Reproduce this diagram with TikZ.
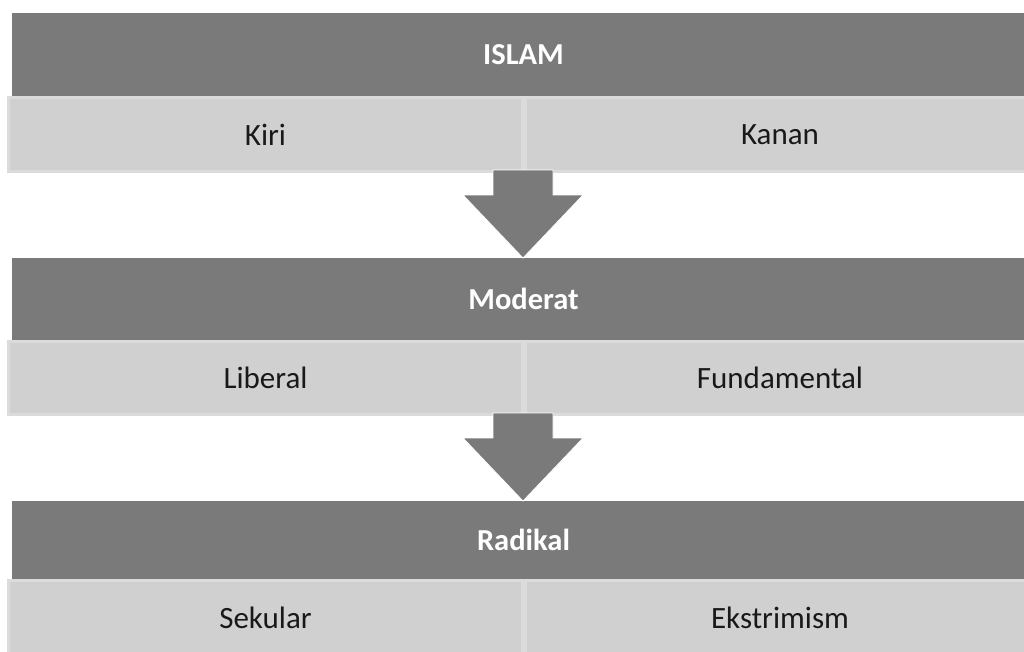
\documentclass[tikz,border=0pt]{standalone}
\usepackage{fontspec}
\setmainfont{Carlito}
\usepackage{xcolor}
\usepackage{tikz}
\usetikzlibrary{positioning,calc}

\definecolor{headgray}{HTML}{7A7A7A}
\definecolor{cellgray}{HTML}{D0D0D0}
\definecolor{cellline}{HTML}{DBDBDB}

\tikzset{
  headbar/.style={fill=headgray,text=white,font=\fontsize{30.5}{36}\selectfont\bfseries,
    anchor=north west,inner sep=0pt,outer sep=0pt,minimum width=1023pt},
  cellbox/.style={fill=cellgray,draw=cellline,line width=3pt,text=black!90,
    font=\fontsize{31}{36}\selectfont,anchor=north west,inner sep=0pt,outer sep=0pt},
  blockarrow/.style={fill=headgray,draw=white,line width=0.8pt,line join=miter}
}

\begin{document}
\begin{tikzpicture}[x=1pt,y=-1pt]
  \useasboundingbox (0,0) rectangle (1024,651);
  % level 1
  \node[headbar,minimum height=83pt] (islam) at (12,13) {ISLAM};
  \node[cellbox,minimum width=514pt,minimum height=74pt] (kiri) at (8.5,97.5) {Kiri};
  \node[cellbox,minimum width=509pt,minimum height=74pt] (kanan) at (525.5,97.5) {Kanan};
  % level 2
  \node[headbar,minimum height=82pt] (moderat) at (12,258) {Moderat};
  \node[cellbox,minimum width=514pt,minimum height=73pt] (liberal) at (8.5,341.5) {Liberal};
  \node[cellbox,minimum width=509pt,minimum height=73pt] (fundamental) at (525.5,341.5) {Fundamental};
  % level 3
  \node[headbar,minimum height=78pt] (radikal) at (12,501) {Radikal};
  \node[cellbox,minimum width=514pt,minimum height=74pt] (sekular) at (8.5,580.5) {Sekular};
  \node[cellbox,minimum width=509pt,minimum height=74pt] (ekstrimism) at (525.5,580.5) {Ekstrimism};
  % arrows between the levels
  \foreach \a/\b in {kiri/moderat, liberal/radikal} {
    \coordinate (top) at ([xshift=0.5pt,yshift=1.5pt]\a.south east);
    \fill[blockarrow] ([xshift=-30pt]top) -- ([xshift=-30pt,yshift=-25pt]top)
      -- ([xshift=-60pt,yshift=-25pt]top) -- (top |- \b.north)
      -- ([xshift=60pt,yshift=-25pt]top) -- ([xshift=30pt,yshift=-25pt]top)
      -- ([xshift=30pt]top) -- cycle;
  }
\end{tikzpicture}
\end{document}
